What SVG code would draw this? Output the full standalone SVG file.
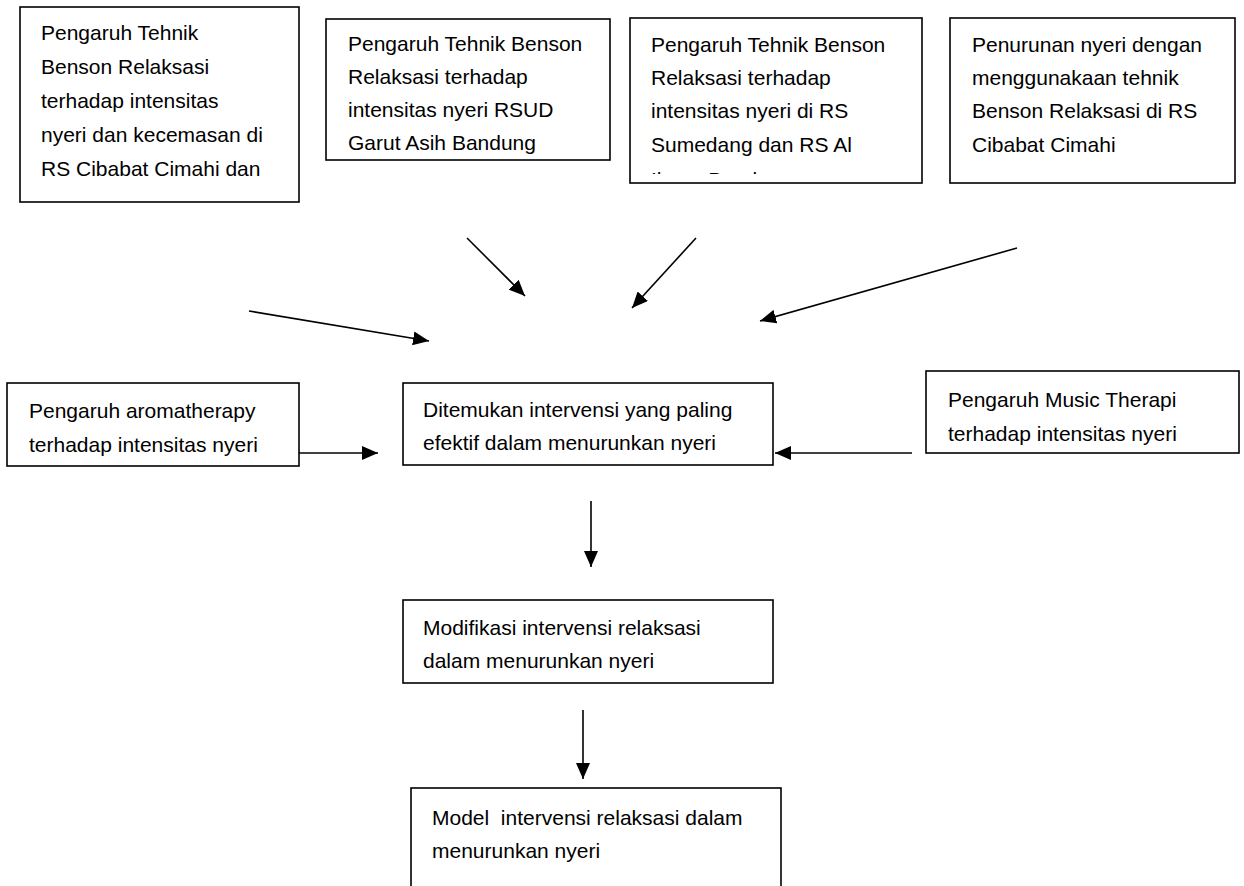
<svg xmlns="http://www.w3.org/2000/svg" width="1244" height="886" viewBox="0 0 1244 886">
<style>
.box{fill:#fff;stroke:#000;stroke-width:1.6}
.t{font-family:"Liberation Sans",Arial,sans-serif;font-size:21px;fill:#000}
.c{stroke:#000;stroke-width:1.6;fill:none;marker-end:url(#ah)}
</style>
<defs>
<marker id="ah" markerUnits="userSpaceOnUse" markerWidth="17" markerHeight="14" refX="16" refY="7" orient="auto">
<path d="M0,0 L16,7 L0,14 z" fill="#000"/>
</marker>
<clipPath id="clip3"><rect x="630" y="18" width="292" height="156"/></clipPath>
</defs>
<rect width="1244" height="886" fill="#fff"/>
<g id="n1">
<rect class="box" x="20" y="7" width="279" height="195"/>
<text class="t" x="41" y="40">Pengaruh Tehnik</text>
<text class="t" x="41" y="74">Benson Relaksasi</text>
<text class="t" x="41" y="108">terhadap intensitas</text>
<text class="t" x="41" y="142">nyeri dan kecemasan di</text>
<text class="t" x="41" y="176">RS Cibabat Cimahi dan</text>
</g>
<g id="n2">
<rect class="box" x="326" y="19" width="284" height="141"/>
<text class="t" x="348" y="51">Pengaruh Tehnik Benson</text>
<text class="t" x="348" y="84">Relaksasi terhadap</text>
<text class="t" x="348" y="117">intensitas nyeri RSUD</text>
<text class="t" x="348" y="150">Garut Asih Bandung</text>
</g>
<g id="n3">
<rect class="box" x="630" y="18" width="292" height="165"/>
<g clip-path="url(#clip3)">
<text class="t" x="651" y="52">Pengaruh Tehnik Benson</text>
<text class="t" x="651" y="85">Relaksasi terhadap</text>
<text class="t" x="651" y="118">intensitas nyeri di RS</text>
<text class="t" x="651" y="152">Sumedang dan RS Al</text>
<text class="t" x="651" y="187">Ihsan Bandung</text>
</g>
</g>
<g id="n4">
<rect class="box" x="950" y="18" width="285" height="165"/>
<text class="t" x="972" y="52">Penurunan nyeri dengan</text>
<text class="t" x="972" y="85">menggunakaan tehnik</text>
<text class="t" x="972" y="118">Benson Relaksasi di RS</text>
<text class="t" x="972" y="152">Cibabat Cimahi</text>
</g>
<g id="n5">
<rect class="box" x="7" y="383" width="292" height="83"/>
<text class="t" x="29" y="418">Pengaruh aromatherapy</text>
<text class="t" x="29" y="452">terhadap intensitas nyeri</text>
</g>
<g id="n6">
<rect class="box" x="403" y="383" width="370" height="82"/>
<text class="t" x="423" y="417">Ditemukan intervensi yang paling</text>
<text class="t" x="423" y="450">efektif dalam menurunkan nyeri</text>
</g>
<g id="n7">
<rect class="box" x="926" y="371" width="313" height="82"/>
<text class="t" x="948" y="407">Pengaruh Music Therapi</text>
<text class="t" x="948" y="441">terhadap intensitas nyeri</text>
</g>
<g id="n8">
<rect class="box" x="403" y="600" width="370" height="83"/>
<text class="t" x="423" y="635">Modifikasi intervensi relaksasi</text>
<text class="t" x="423" y="668">dalam menurunkan nyeri</text>
</g>
<g id="n9">
<rect class="box" x="411" y="788" width="370" height="120"/>
<text class="t" x="432" y="825" xml:space="preserve">Model  intervensi relaksasi dalam</text>
<text class="t" x="432" y="858">menurunkan nyeri</text>
</g>
<g id="connectors">
<line class="c" x1="249" y1="311" x2="429" y2="341"/>
<line class="c" x1="467" y1="238" x2="525" y2="296"/>
<line class="c" x1="696" y1="238" x2="632" y2="308"/>
<line class="c" x1="1017" y1="248" x2="760" y2="321"/>
<line class="c" x1="299" y1="453" x2="378" y2="453"/>
<line class="c" x1="912" y1="453" x2="775" y2="453"/>
<line class="c" x1="591" y1="501" x2="591" y2="567"/>
<line class="c" x1="583" y1="710" x2="583" y2="779"/>
</g>
</svg>
